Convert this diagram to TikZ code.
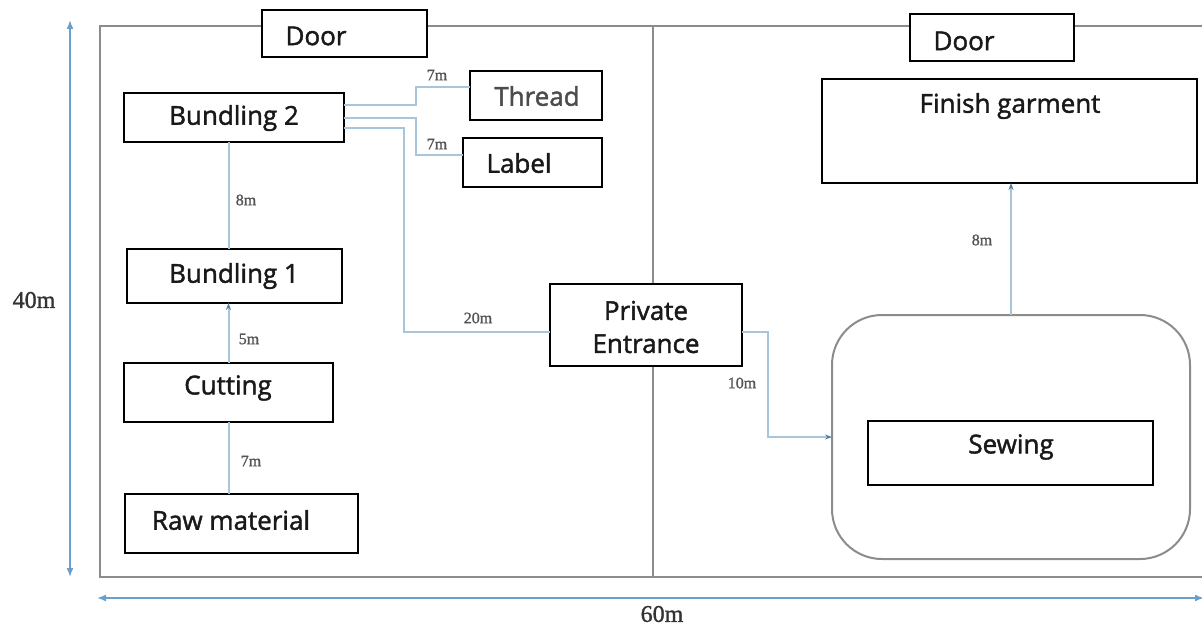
\documentclass[tikz,border=0pt]{standalone}
\usepackage{fontspec}
\setmainfont{Open Sans}
\newfontfamily\boxfont[FakeBold=1.6]{Open Sans}
\newfontfamily\serifx[FakeBold=1.2]{Liberation Serif}
\usetikzlibrary{arrows.meta}
\definecolor{connc}{HTML}{A9C5D9}
\definecolor{dimc}{HTML}{6A9FCB}
\definecolor{wallc}{HTML}{8C8C8C}
\definecolor{lblc}{HTML}{555555}
\begin{document}
\begin{tikzpicture}[x=1pt,y=-1pt,
  box/.style={draw=black,line width=2.3pt,fill=white,inner sep=0pt,outer sep=0pt},
  area/.style={draw=wallc,line width=2pt,fill=white,rounded corners=50pt,inner sep=0pt,outer sep=0pt},
  wall/.style={draw=wallc,line width=2pt},
  txt/.style={font=\boxfont\fontsize{26}{33}\selectfont,text=black!90,inner sep=0pt,align=center},
  conn/.style={draw=connc,line width=2pt},
  carrow/.style={conn,-{Stealth[length=7pt,width=5pt,color=dimc!80!black]}},
  dist/.style={font=\serifx\fontsize{16}{18}\selectfont,text=lblc,inner sep=0pt},
  dimline/.style={draw=dimc,line width=1.6pt,{Latex[length=9pt,width=7pt]}-{Latex[length=9pt,width=7pt]}},
  dimtxt/.style={font=\serifx\fontsize{24}{27}\selectfont,text=black!80,inner sep=0pt}]
\useasboundingbox (0,0) rectangle (1202,626);
% walls
\coordinate (w1) at (1202,26);
\coordinate (w2) at (100,26);
\coordinate (w3) at (100,577);
\coordinate (w4) at (1202,577);
\coordinate (d1) at (653,26);
\coordinate (d2) at (653,577);
\draw[wall] (w1) -- (w2) -- (w3) -- (w4);
\draw[wall] (d1) -- (d2);
% dimensions
\coordinate (vt) at (70,20);
\coordinate (vb) at (70,577);
\coordinate (hl) at (97,598);
\coordinate (hr) at (1204,598);
\draw[dimline] (vt) -- (vb);
\draw[dimline] (hl) -- (hr);
\node[dimtxt] (h40) at (34,300) {40m};
\node[dimtxt] (h60) at (662,614) {60m};
% boxes
\node[box,minimum width=165pt,minimum height=47pt] (doorL) at (344.5,33.5) {};
\node[box,minimum width=164pt,minimum height=47pt] (doorR) at (992,37.5) {};
\node[box,minimum width=220pt,minimum height=49pt] (b2) at (234,117.5) {};
\node[box,minimum width=132pt,minimum height=49pt] (thread) at (536,95.5) {};
\node[box,minimum width=139pt,minimum height=49pt] (label) at (532.5,162.5) {};
\node[box,minimum width=215pt,minimum height=54pt] (b1) at (234.5,276) {};
\node[box,minimum width=209pt,minimum height=59pt] (cut) at (228.5,392.5) {};
\node[box,minimum width=233pt,minimum height=59pt] (raw) at (241.5,523.5) {};
\node[box,minimum width=192pt,minimum height=82pt] (pe) at (646,325) {};
\node[box,minimum width=375pt,minimum height=104pt] (fin) at (1009.5,131) {};
\node[area,minimum width=358pt,minimum height=244pt] (sewarea) at (1011,437) {};
\node[box,minimum width=285pt,minimum height=64pt] (sew) at (1010.5,453) {};
% texts
\node[txt] (tdoorL) at (316,36) {Door};
\node[txt] (tdoorR) at (964,41) {Door};
\node[txt] (tb2) at (234,118) {Bundling 2};
\node[txt,text=black!70] (tthread) at (537,96) {Thread};
\node[txt] (tlabel) at (519,163) {Label};
\node[txt] (tb1) at (234,276) {Bundling 1};
\node[txt] (tcut) at (228,388) {Cutting};
\node[txt] (traw) at (231,520) {Raw material};
\node[txt] (tpe) at (646,327) {Private\\Entrance};
\node[txt] (tfin) at (1010,106) {Finish garment};
\node[txt] (tsew) at (1011,447) {Sewing};
% connectors
\draw[conn] (cut.south |- raw.north) -- (cut.south);
\draw[carrow] (cut.north) -- (cut.north |- b1.south);
\draw[conn] (cut.north |- b1.north) -- (cut.north |- b2.south);
\draw[conn] (b2.east |- 0,105) -- (416,105) |- (thread.west |- 0,87);
\draw[conn] (b2.east |- 0,118) -- (416,118) |- (label.west |- 0,155);
\draw[conn] (b2.east |- 0,128) -- (404,128) |- (pe.west |- 0,332);
\draw[carrow] (pe.east |- 0,332) -- (768,332) |- (sewarea.west);
\draw[carrow] (sewarea.north) -- (sewarea.north |- fin.south);
% distances
\node[dist] (l1) at (437,75) {7m};
\node[dist] (l2) at (437,144) {7m};
\node[dist] (l3) at (246,200) {8m};
\node[dist] (l4) at (249,339) {5m};
\node[dist] (l5) at (251,461) {7m};
\node[dist] (l6) at (478,318) {20m};
\node[dist] (l7) at (742,383) {10m};
\node[dist] (l8) at (982,240) {8m};
\end{tikzpicture}
\end{document}
